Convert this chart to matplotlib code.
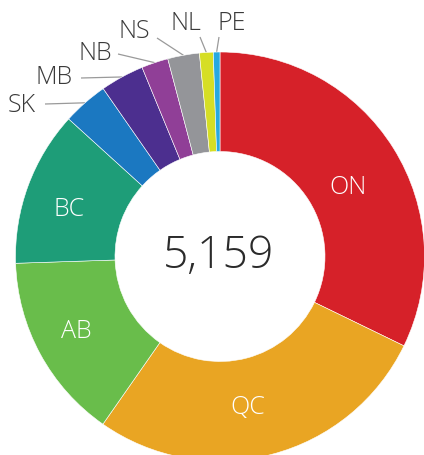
import numpy as np
import matplotlib
matplotlib.use("Agg")
import matplotlib.pyplot as plt

# ---------- data ----------
provinces = ["ON", "QC", "AB", "BC", "SK", "MB", "NB", "NS", "NL", "PE"]
counts = [1661, 1419, 762, 633, 185, 178, 109, 129, 56, 27]
colors = ["#d62129", "#e9a523", "#69bd4b", "#1e9d78", "#1b78c1",
          "#4c2f8f", "#903f97", "#949599", "#d6de25", "#27a9e1"]
total_label = "5,159"

# label layout (px from top-left of the image)
inside_pos = {"ON": (348, 188), "QC": (248, 407), "AB": (76, 331), "BC": (69, 209)}
outside_pos = {
    "SK": (22, 105), "MB": (54, 77), "NB": (95, 53),
    "NS": (134, 31), "NL": (186, 23), "PE": (232, 23),
}
leader_start = {
    "SK": (45, 104), "MB": (81, 78), "NB": (118, 54),
    "NS": (157, 38), "NL": (200, 37), "PE": (219, 37),
}

plt.rcParams["font.family"] = ["Open Sans", "DejaVu Sans"]

W, H = 424, 455
fig = plt.figure(figsize=(W / 100, H / 100), dpi=100)
ax = fig.add_axes([0, 0, 1, 1])

cx, cy = 220, H - 256.5
R = 204.5
ring = 1 - 105 / R

wedges, _ = ax.pie(
    counts,
    colors=colors,
    startangle=90,
    counterclock=False,
    center=(cx, cy),
    radius=R,
    wedgeprops=dict(width=R * ring, edgecolor="white", linewidth=0.4),
    frame=True,
)
ax.set_xlim(0, W)
ax.set_ylim(0, H)
ax.set_aspect("equal")
ax.axis("off")

for w, name in zip(wedges, provinces):
    mid = np.deg2rad((w.theta1 + w.theta2) / 2)
    if name in inside_pos:
        tx, ty = inside_pos[name]
        ax.text(tx, H - ty, name, color="white", fontsize=18,
                fontweight="light", ha="center", va="center")
    else:
        tx, ty = outside_pos[name]
        ax.text(tx, H - ty, name, fontsize=18, fontweight="light",
                color="#3a3a3a", ha="center", va="center")
        sx, sy = leader_start[name]
        ex, ey = cx + R * np.cos(mid), cy + R * np.sin(mid)
        ax.plot([sx, ex], [H - sy, ey], color="#9a9a9a", lw=0.9,
                solid_capstyle="butt", zorder=0)

# digits sit on the baseline, 15px below the ring centre
ax.text(cx - 1, cy - 12, total_label, fontsize=32, fontweight="light",
        color="#2b2b2b", ha="center", va="baseline")

fig.savefig("out.png", dpi=100)
